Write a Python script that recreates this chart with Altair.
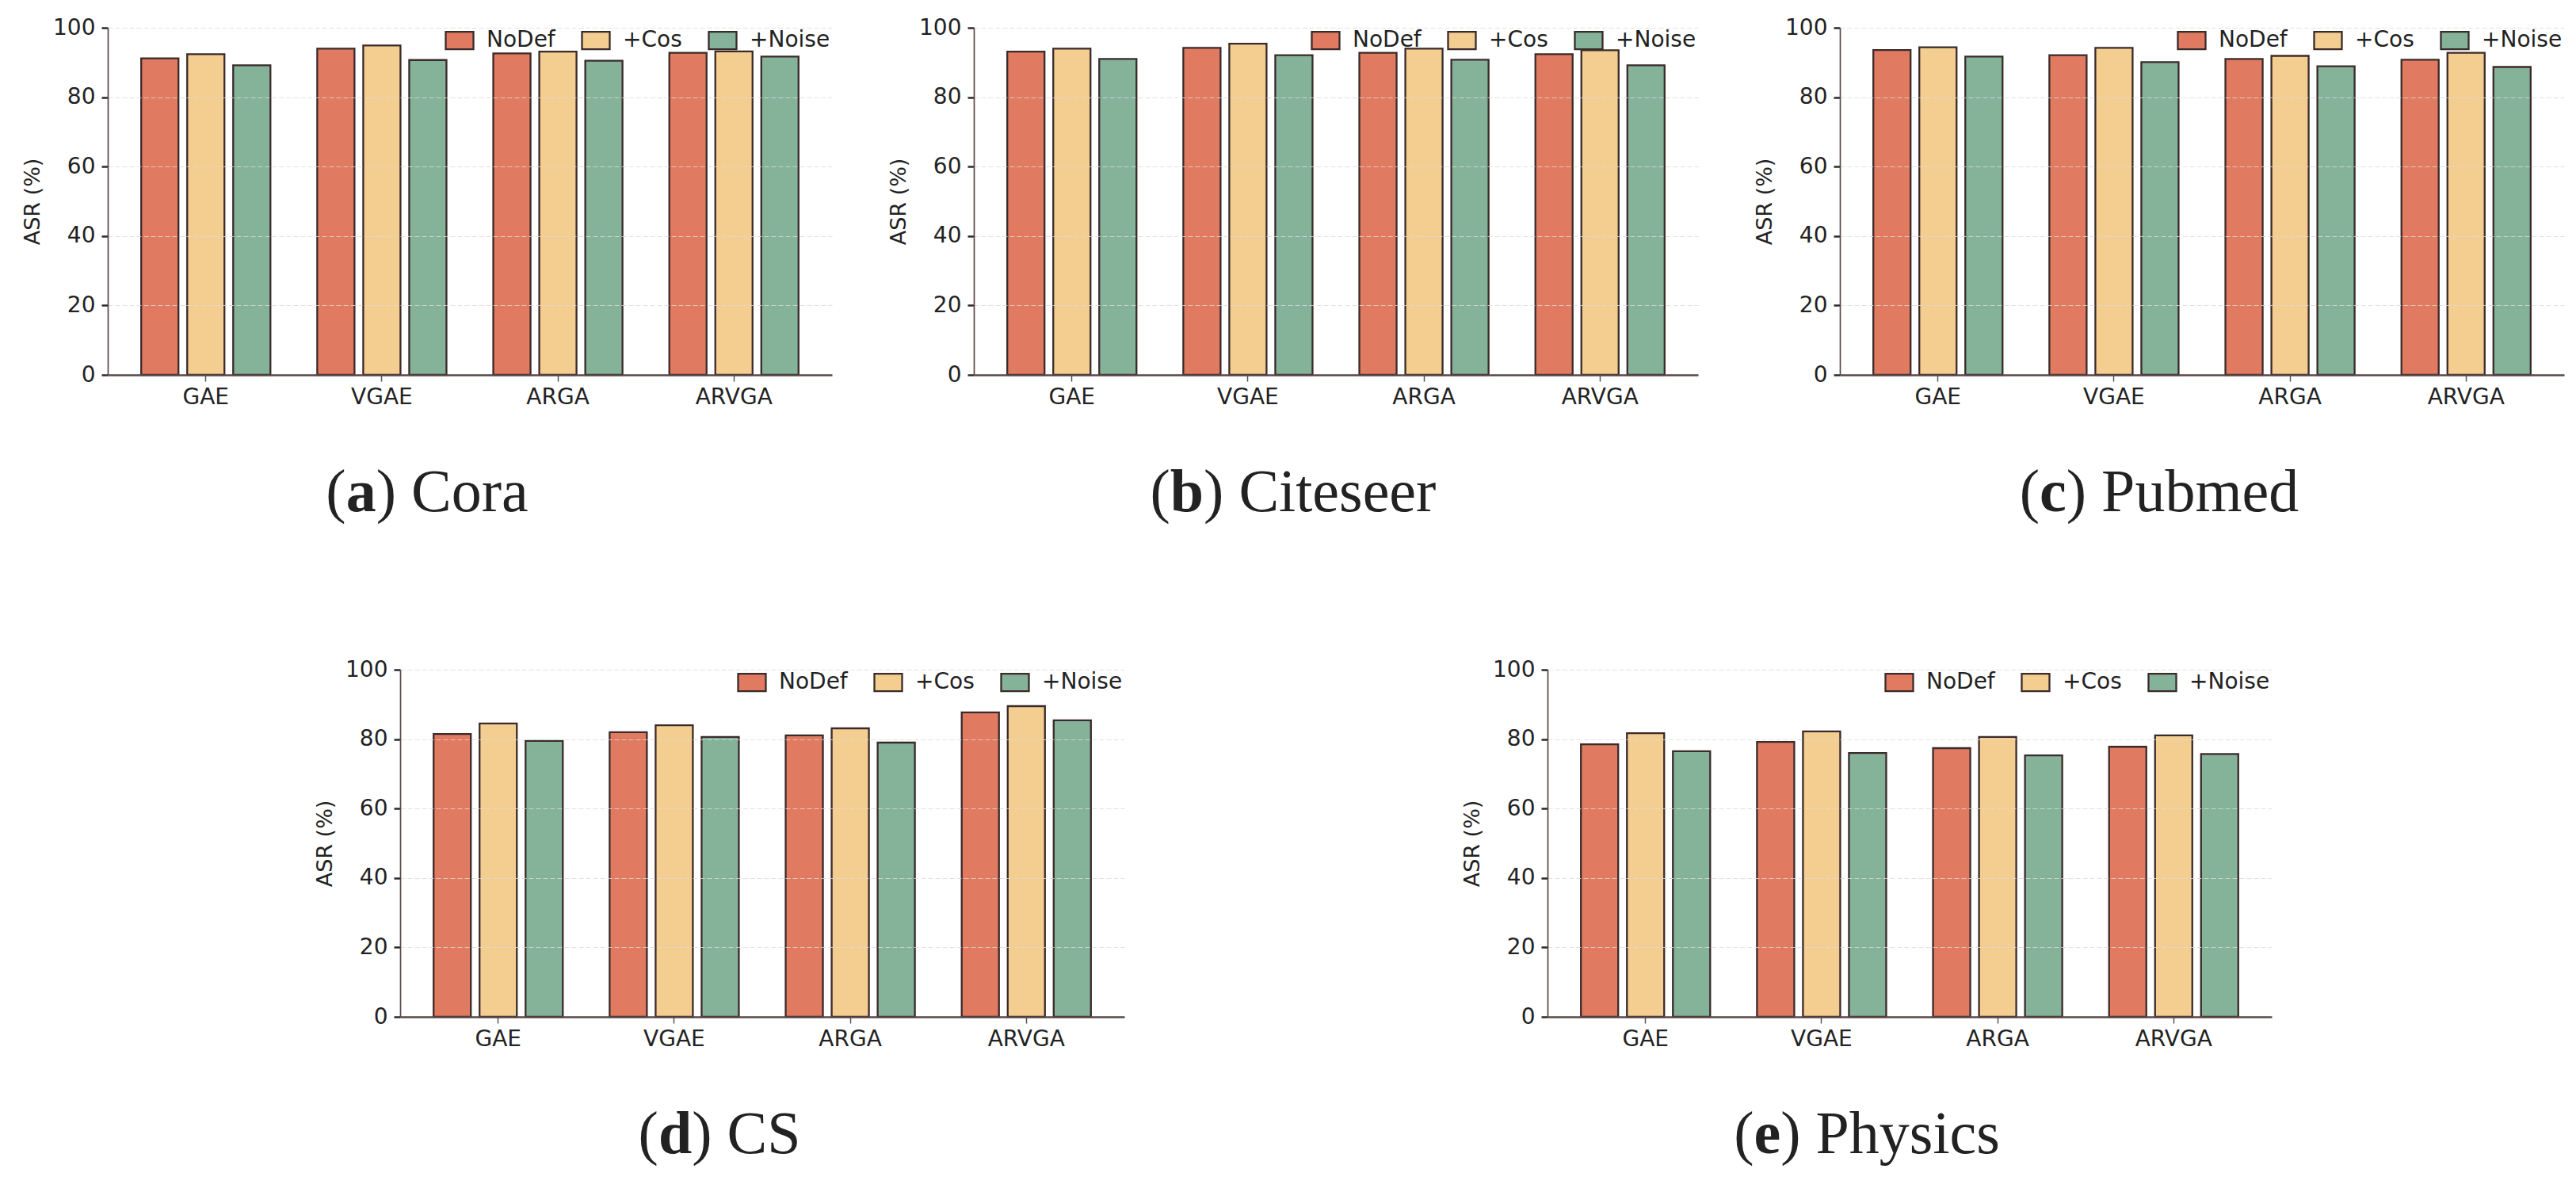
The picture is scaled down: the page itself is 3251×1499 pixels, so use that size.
import altair as alt
import pandas as pd

models = ["GAE", "VGAE", "ARGA", "ARVGA"]
methods = ["NoDef", "+Cos", "+Noise"]
colors = ["#E07B61", "#F4CE90", "#84B39A"]

cora_nodef = [91.2, 94.0, 92.6, 92.8]
cora_cos = [92.4, 94.9, 93.1, 93.2]
cora_noise = [89.2, 90.7, 90.5, 91.7]

citeseer_nodef = [93.1, 94.2, 92.8, 92.4]
citeseer_cos = [94.0, 95.4, 94.0, 93.5]
citeseer_noise = [91.0, 92.1, 90.8, 89.2]

pubmed_nodef = [93.6, 92.1, 91.0, 90.8]
pubmed_cos = [94.4, 94.2, 91.9, 92.8]
pubmed_noise = [91.7, 90.1, 88.9, 88.7]

cs_nodef = [81.5, 82.0, 81.1, 87.7]
cs_cos = [84.5, 84.0, 83.1, 89.5]
cs_noise = [79.5, 80.6, 79.0, 85.4]

physics_nodef = [78.5, 79.2, 77.4, 77.8]
physics_cos = [81.7, 82.2, 80.6, 81.1]
physics_noise = [76.5, 76.0, 75.3, 75.7]

W, H = 914, 438
STROKE = "#3b2a2a"
TXT = "#222222"
CAP_FS = 76

# approximate Times-like advance widths (em) for caption layout
char_w = {"(": 0.333, ")": 0.333, " ": 0.25, "C": 0.667, "o": 0.5, "r": 0.333,
          "a": 0.444, "i": 0.278, "t": 0.278, "e": 0.444, "s": 0.389, "P": 0.556,
          "u": 0.5, "b": 0.5, "m": 0.778, "d": 0.5, "S": 0.556, "h": 0.5,
          "y": 0.5, "c": 0.444}
bold_w = {"a": 0.5, "b": 0.556, "c": 0.444, "d": 0.556, "e": 0.444}


def tw(s):
    return sum(char_w.get(ch, 0.5) for ch in s) * CAP_FS


def panel(letter, name, nodef, cos, noise, left_extend=None):
    rows = []
    for vals, m in zip((nodef, cos, noise), methods):
        for mod, v in zip(models, vals):
            rows.append({"model": mod, "method": m, "asr": v})
    df = pd.DataFrame(rows)

    bars = alt.Chart(df).mark_bar(stroke=STROKE, strokeWidth=2.3).encode(
        x=alt.X("model:N", sort=models,
                scale=alt.Scale(paddingInner=0.266, paddingOuter=0.19),
                axis=alt.Axis(title=None, labelAngle=0, labelFont="DejaVu Sans",
                              labelFontSize=28, labelColor=TXT, labelPadding=6,
                              tickSize=8, tickWidth=1.5, tickColor="#555555",
                              domainColor="#5a4747", domainWidth=2.6, zindex=1)),
        xOffset=alt.XOffset("method:N", sort=methods,
                            scale=alt.Scale(paddingInner=0.19, paddingOuter=0)),
        y=alt.Y("asr:Q", scale=alt.Scale(domain=[0, 100], nice=False),
                axis=alt.Axis(title="ASR (%)", values=[0, 20, 40, 60, 80, 100],
                              labelFont="DejaVu Sans", labelFontSize=28, labelColor=TXT,
                              labelPadding=8, tickSize=8, tickWidth=2.5, tickColor="#2a2a2a",
                              domainColor="#5a4747", domainWidth=1.7,
                              titleFont="DejaVu Sans", titleFontSize=27,
                              titleFontWeight="normal", titleColor=TXT, titlePadding=11,
                              grid=True, gridColor="#dedad6", gridDash=[6, 3],
                              gridWidth=1.2, gridOpacity=0.8, zindex=1)),
        fill=alt.Fill("method:N", sort=methods,
                      scale=alt.Scale(domain=methods, range=colors),
                      legend=alt.Legend(title=None, orient="none", legendX=425, legendY=-3,
                                        direction="horizontal",
                                        symbolType="M-1,-0.63H1V0.63H-1Z", symbolSize=1225,
                                        symbolStrokeColor=STROKE, symbolStrokeWidth=2.3,
                                        symbolOpacity=1,
                                        labelFont="DejaVu Sans", labelFontSize=28,
                                        labelColor=TXT, labelOffset=15,
                                        columnPadding=28, padding=0)),
    )

    one = pd.DataFrame({"k": [0]})
    total = char_w["("] * CAP_FS + bold_w[letter] * CAP_FS + tw(") " + name)
    cx = W / 2 - 54
    left = cx - total / 2
    base_y = H + 172
    p1 = alt.Chart(one).mark_text(text="(", font="Liberation Serif", fontSize=CAP_FS,
                                   align="left", baseline="alphabetic", color=TXT).encode(
        x=alt.value(left), y=alt.value(base_y))
    p2 = alt.Chart(one).mark_text(text=letter, font="Liberation Serif", fontSize=CAP_FS,
                                   fontWeight="bold", align="left", baseline="alphabetic",
                                   color=TXT).encode(
        x=alt.value(left + char_w["("] * CAP_FS), y=alt.value(base_y))
    p3 = alt.Chart(one).mark_text(text=") " + name, font="Liberation Serif", fontSize=CAP_FS,
                                   align="left", baseline="alphabetic", color=TXT).encode(
        x=alt.value(left + char_w["("] * CAP_FS + bold_w[letter] * CAP_FS), y=alt.value(base_y))
    layers = [bars, p1, p2, p3]
    if left_extend is not None:
        spacer = alt.Chart(one).mark_text(text=".", fontSize=10, color="#ffffff",
                                          align="left", baseline="middle").encode(
            x=alt.value(left_extend), y=alt.value(H / 2))
        layers.append(spacer)
    return alt.layer(*layers).properties(width=W, height=H)


pa = panel("a", "Cora", cora_nodef, cora_cos, cora_noise)
pb = panel("b", "Citeseer", citeseer_nodef, citeseer_cos, citeseer_noise)
pc = panel("c", "Pubmed", pubmed_nodef, pubmed_cos, pubmed_noise)
pd_ = panel("d", "CS", cs_nodef, cs_cos, cs_noise, left_extend=-128)
pe = panel("e", "Physics", physics_nodef, physics_cos, physics_noise)

top = alt.hconcat(pa, pb, pc, spacing=70).resolve_scale(fill="independent")
bottom = alt.hconcat(pd_, pe, spacing=425).resolve_scale(fill="independent")

chart = alt.vconcat(top, bottom, spacing=171, center=True).properties(
    padding={"left": 19, "top": 13, "right": 5, "bottom": 5}
).configure_view(stroke=None).resolve_scale(fill="independent")

chart.save("out.html", embed_options={"renderer": "svg", "actions": False})
